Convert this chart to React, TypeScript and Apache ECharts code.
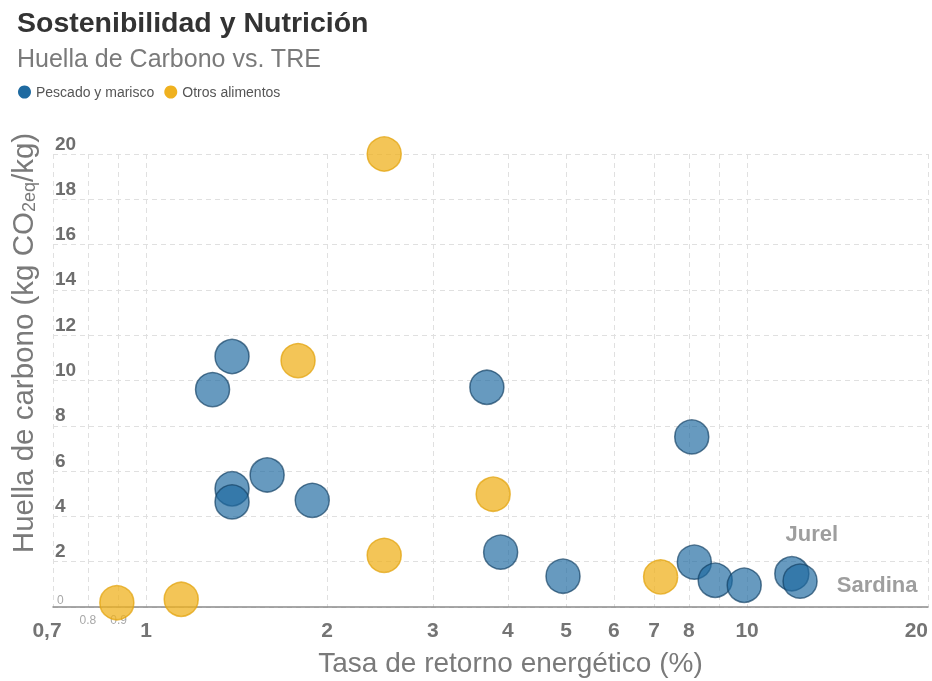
import React, { useEffect, useRef } from 'react';
import * as echarts from 'echarts';

// ---- data ----
const seriesNames = ['Pescado y marisco', 'Otros alimentos'];
const fishTRE = [1.39, 1.29, 1.39, 1.39, 1.59, 1.89, 3.69, 3.89, 4.94, 8.09, 8.17, 8.85, 9.89, 11.87, 12.25];
const fishCarbon = [11.06, 9.6, 5.22, 4.64, 5.83, 4.71, 9.7, 2.42, 1.36, 7.51, 1.98, 1.18, 0.96, 1.47, 1.14];
const fishLabels = ['', '', '', '', '', '', '', '', '', '', '', '', '', 'Jurel', 'Sardina'];
const otherTRE = [2.49, 1.79, 3.78, 2.49, 7.18, 0.894, 1.144];
const otherCarbon = [20, 10.88, 4.98, 2.28, 1.33, 0.19, 0.34];
const xLabelValues = [0.7, 0.8, 0.9, 1, 2, 3, 4, 5, 6, 7, 8, 10, 20];
const xGridValues = [0.7, 0.8, 0.9, 1, 2, 3, 4, 5, 6, 7, 8, 9, 10, 20];
const xMinorLabels = [0.8, 0.9];
const xMin = 0.7;
const xMax = 20;
const yMin = 0;
const yMax = 20;
const yStep = 2;

const FONT = '"Liberation Sans", Arial, sans-serif';
const BLUE = '#1f6aa0';
const YELLOW = '#efb11f';

const labelStyles: Record<string, any> = {
  Jurel: { position: 'top', distance: 11, offset: [20, 0] },
  Sardina: { position: 'right', distance: 19, offset: [0, 3] },
};

export default function App() {
  const ref = useRef<HTMLDivElement>(null);
  useEffect(() => {
    if (!ref.current) return;
    const chart = echarts.init(ref.current, null, { renderer: 'svg' });
    const fishData = fishTRE.map((x, i) => {
      const name = fishLabels[i];
      const item: any = { value: [x, fishCarbon[i]] };
      if (name) {
        item.label = {
          show: true,
          formatter: name,
          fontFamily: FONT,
          fontSize: 22,
          fontWeight: 'bold',
          color: '#707070',
          ...labelStyles[name],
        };
      }
      return item;
    });
    const otherData = otherTRE.map((x, i) => [x, otherCarbon[i]]);
    const fmtX = (v: number) => {
      const r = Math.round(v * 10) / 10;
      if (xMinorLabels.includes(r)) return `{s|${String(r)}}`;
      if (r === xMin) return `{f|${String(r).replace('.', ',')}}`;
      return `{b|${r}}`;
    };
    chart.setOption({
      animation: false,
      textStyle: { fontFamily: FONT },
      title: {
        text: 'Sostenibilidad y Nutrición',
        subtext: 'Huella de Carbono vs. TRE',
        left: 12,
        top: 2,
        itemGap: 9,
        textStyle: { fontFamily: FONT, fontSize: 28.5, fontWeight: 'bold', color: '#333333' },
        subtextStyle: { fontFamily: FONT, fontSize: 25, color: '#7a7a7a' },
      },
      legend: {
        left: 13,
        top: 80,
        icon: 'circle',
        itemWidth: 13,
        itemHeight: 13,
        itemGap: 10,
        itemStyle: { opacity: 1, borderWidth: 0 },
        textStyle: { fontFamily: '"Liberation Sans Narrow", "Liberation Sans", Arial, sans-serif', fontSize: 14, color: '#555555' },
        data: seriesNames,
      },
      grid: { left: 53, right: 4, top: 154, bottom: 70, containLabel: false },
      xAxis: {
        type: 'log',
        logBase: 10,
        min: xMin,
        max: xMax,
        name: 'Tasa de retorno energético (%)',
        nameLocation: 'middle',
        nameGap: 41,
        nameTextStyle: { fontFamily: FONT, fontSize: 28, color: '#7a7a7a', padding: [0, 0, 0, 40] },
        axisLine: { show: true, lineStyle: { color: '#8a8a8a', width: 1.5 } },
        axisTick: { show: false, customValues: xGridValues },
        splitLine: { show: true, lineStyle: { color: '#e0e0e0', type: [5, 4], width: 1 } },
        minorSplitLine: { show: false },
        axisLabel: {
          customValues: xLabelValues,
          margin: 4,
          alignMaxLabel: 'right',
          formatter: fmtX,
          rich: {
            b: { fontFamily: FONT, fontSize: 21, fontWeight: 'bold', color: '#747474', lineHeight: 36 },
            f: { fontFamily: FONT, fontSize: 21, fontWeight: 'bold', color: '#747474', lineHeight: 36, padding: [0, 12, 0, 0] },
            s: { fontFamily: FONT, fontSize: 12, color: '#a8a8a8', lineHeight: 18 },
          },
        },
      },
      yAxis: {
        type: 'value',
        min: yMin,
        max: yMax,
        interval: yStep,
        axisLine: { show: false },
        axisTick: { show: false },
        splitLine: { show: true, lineStyle: { color: '#e0e0e0', type: [5, 4], width: 1 } },
        axisLabel: {
          inside: true,
          margin: 2,
          verticalAlign: 'bottom',
          formatter: (v: number) => (v === 0 ? `{s|${v}}` : `{b|${v}}`),
          rich: {
            b: { fontFamily: FONT, fontSize: 19, fontWeight: 'bold', color: '#6e6e6e', lineHeight: 20, padding: [0, 0, 2, 0] },
            s: { fontFamily: FONT, fontSize: 12, color: '#a8a8a8', lineHeight: 12, padding: [0, 0, 2, 2] },
          },
        },
      },
      graphic: [
        {
          type: 'text',
          x: 22,
          y: 343,
          rotation: Math.PI / 2,
          style: {
            text: '{m|Huella de carbono (kg CO}{s|2eq}{m|/kg)}',
            align: 'center',
            verticalAlign: 'middle',
            textAlign: 'center',
            textVerticalAlign: 'middle',
            rich: {
              m: { fontFamily: FONT, fontSize: 29.5, lineHeight: 32, fill: '#7a7a7a', verticalAlign: 'middle' },
              s: { fontFamily: FONT, fontSize: 18, lineHeight: 18, fill: '#7a7a7a', verticalAlign: 'bottom' },
            },
          },
        },
      ],
      series: [
        {
          name: seriesNames[0],
          type: 'scatter',
          symbolSize: 34,
          data: fishData,
          itemStyle: { color: BLUE, opacity: 0.68, borderColor: '#123f63', borderWidth: 1.5 },
          emphasis: { disabled: true },
          z: 3,
        },
        {
          name: seriesNames[1],
          type: 'scatter',
          symbolSize: 34,
          data: otherData,
          itemStyle: { color: YELLOW, opacity: 0.75, borderColor: '#e3a40f', borderWidth: 1.5 },
          emphasis: { disabled: true },
          z: 2,
        },
      ],
    });
    return () => chart.dispose();
  }, []);
  return <div ref={ref} style={{ position: 'fixed', left: 0, top: 0, width: 932, height: 681 }} />;
}
